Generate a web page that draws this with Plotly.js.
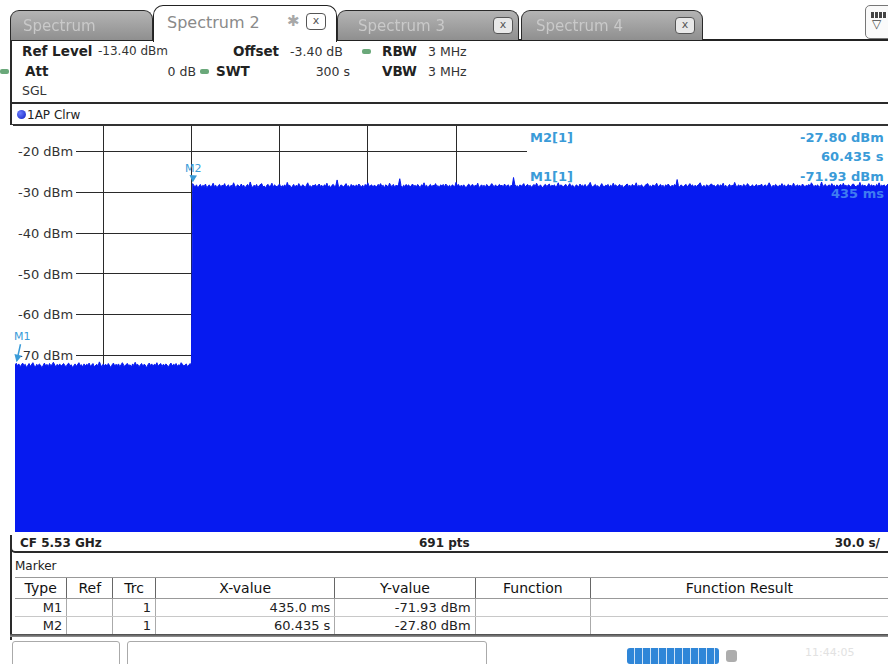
<!DOCTYPE html>
<html>
<head>
<meta charset="utf-8">
<script src="https://cdn.plot.ly/plotly-3.0.1.min.js"></script>
<style>
html,body{margin:0;padding:0;width:888px;height:664px;overflow:hidden;background:#fff;font-family:"DejaVu Sans",sans-serif;color:#222;}
#chart{position:absolute;left:0;top:0;width:900px;height:664px;z-index:1;}
.abs{position:absolute;white-space:nowrap;z-index:3;}
.vc{transform:translateY(-50%);}
.b{font-weight:bold;font-size:13px;color:#222;}
.n{font-size:12.5px;color:#333;}
.dash{position:absolute;width:9px;height:5px;border-radius:2px;background:#6aa87a;z-index:3;}
.tab{position:absolute;top:10px;height:30px;border:1.5px solid #2a2a2a;border-bottom:none;border-radius:9px 9px 0 0;background:linear-gradient(#b4b4b4,#8f8f8f);z-index:3;box-sizing:border-box;}
.tabtxt{position:absolute;top:6px;font-size:15px;color:#c9c9c9;filter:blur(0.5px);}
.xbox{position:absolute;top:6px;width:18px;height:15px;border:1px solid #555;border-radius:4px;background:#e8e8e8;font-size:11px;line-height:14px;text-align:center;color:#555;}
table.mk{position:absolute;left:15px;top:577px;border-collapse:collapse;table-layout:fixed;z-index:3;font-family:"DejaVu Sans",sans-serif;font-size:13px;color:#222;}
table.mk td{padding:0 4px;overflow:hidden;white-space:nowrap;border-left:1px solid #888;border-bottom:1px solid #c8c8c8;}
table.mk tr.hd td{height:20px;text-align:center;font-size:14px;color:#111;border-left:1px solid #666;border-top:1px solid #999;border-bottom:1px solid #999;}
table.mk tr.rw td{height:17px;text-align:right;border-left:1px solid #aaa;}
</style>
</head>
<body>
<div id="chart"></div>

<!-- tab strip -->
<div class="abs" style="left:10px;top:39px;width:880px;height:2px;background:#222;"></div>
<div class="tab" style="left:10px;width:143px;"><span class="tabtxt" style="left:12px;">Spectrum</span></div>
<div class="tab" style="left:337px;width:182px;"><span class="tabtxt" style="left:20px;">Spectrum 3</span><div class="xbox" style="left:155px;">x</div></div>
<div class="tab" style="left:521px;width:182px;"><span class="tabtxt" style="left:14px;">Spectrum 4</span><div class="xbox" style="left:153px;">x</div></div>
<div class="abs" style="left:153px;top:5px;width:184px;height:37px;border:1.5px solid #222;border-bottom:none;border-radius:10px 10px 0 0;background:#fff;box-sizing:border-box;z-index:4;">
  <span style="position:absolute;left:13px;top:7px;font-size:16px;color:#8a8a8a;">Spectrum 2</span>
  <span style="position:absolute;left:133px;top:6px;font-size:15px;color:#a8a8a8;">✱</span>
  <div class="xbox" style="left:152px;top:7px;background:#fff;">x</div>
</div>
<div class="abs" style="left:865px;top:5px;width:26px;height:32px;border:1px solid #777;border-radius:5px;background:#fafafa;">
  <div style="position:absolute;left:5px;top:6px;width:16px;height:6px;background:repeating-linear-gradient(90deg,#444 0 3px,#fff 3px 4px);"></div>
  <span style="position:absolute;left:6px;top:11px;font-size:12px;color:#444;">▽</span>
</div>

<!-- left border of window -->
<div class="abs" style="left:10px;top:40px;width:2px;height:600px;background:#2a2a2a;"></div>

<!-- header info -->
<span class="abs vc b" style="left:22px;top:51px;font-size:13.5px;">Ref Level</span>
<span class="abs vc n" style="left:98px;top:51px;font-size:12px;">-13.40 dBm</span>
<span class="abs vc b" style="left:233px;top:51px;font-size:13.5px;">Offset</span>
<span class="abs vc n" style="left:290px;top:51px;">-3.40 dB</span>
<div class="dash" style="left:362px;top:49px;"></div>
<span class="abs vc b" style="left:382px;top:51px;font-size:13.5px;">RBW</span>
<span class="abs vc n" style="left:428px;top:51px;">3 MHz</span>

<div class="dash" style="left:0px;top:69px;"></div>
<span class="abs vc b" style="left:25px;top:71px;font-size:13.5px;">Att</span>
<span class="abs vc n" style="right:692px;top:71px;">0 dB</span>
<div class="dash" style="left:200px;top:69px;"></div>
<span class="abs vc b" style="left:216px;top:71px;font-size:13.5px;">SWT</span>
<span class="abs vc n" style="right:538px;top:71px;">300 s</span>
<span class="abs vc b" style="left:382px;top:71px;font-size:13.5px;">VBW</span>
<span class="abs vc n" style="left:428px;top:71px;">3 MHz</span>

<span class="abs vc n" style="left:22px;top:90px;">SGL</span>

<!-- trace window frame -->
<div class="abs" style="left:11px;top:102px;width:890px;height:2px;background:#2a2a2a;"></div>
<div class="abs" style="left:17px;top:110px;width:9px;height:9px;border-radius:50%;background:radial-gradient(circle at 35% 35%,#6a7cff,#1020c0);"></div>
<span class="abs vc n" style="left:27px;top:115px;font-size:12px;color:#222;">1AP Clrw</span>
<div class="abs" style="left:11px;top:124px;width:890px;height:1.5px;background:#333;"></div>
<div class="abs" style="left:0px;top:125px;width:13px;height:410px;background:#fff;"></div>
<div class="abs" style="left:10px;top:104px;width:890px;height:449px;border-left:2.5px solid #2a2a2a;border-bottom:2px solid #2a2a2a;border-bottom-left-radius:5px;box-sizing:border-box;z-index:2;"></div>

<span class="abs vc" style="left:20px;top:543px;font-size:12px;font-weight:bold;">CF 5.53 GHz</span>
<span class="abs vc" style="left:419px;top:543px;font-size:12px;font-weight:bold;">691 pts</span>
<span class="abs vc" style="right:8px;top:543px;font-size:12px;font-weight:bold;">30.0 s/</span>

<!-- marker table -->
<span class="abs vc" style="left:15px;top:566px;font-size:12px;">Marker</span>
<table class="mk">
<colgroup><col style="width:52px"><col style="width:46px"><col style="width:43px"><col style="width:181px"><col style="width:141px"><col style="width:116px"><col style="width:300px"></colgroup>
<tr class="hd"><td style="border-left:none">Type</td><td>Ref</td><td>Trc</td><td>X-value</td><td>Y-value</td><td>Function</td><td>Function Result</td></tr>
<tr class="rw"><td style="border-left:none">M1</td><td></td><td>1</td><td>435.0 ms</td><td>-71.93 dBm</td><td></td><td></td></tr>
<tr class="rw"><td style="border-left:none">M2</td><td></td><td>1</td><td>60.435 s</td><td>-27.80 dBm</td><td></td><td></td></tr>
</table>
<div class="abs" style="left:10px;top:634px;width:890px;height:3px;background:linear-gradient(#444,#999);"></div>

<!-- status bar -->
<div class="abs" style="left:12px;top:641px;width:106px;height:26px;border:1px solid #aaa;border-radius:3px;background:#fff;"></div>
<div class="abs" style="left:127px;top:641px;width:358px;height:26px;border:1px solid #aaa;border-radius:3px;background:#fff;"></div>
<div class="abs" style="left:627px;top:648px;width:92px;height:16px;border-radius:3px;background:repeating-linear-gradient(90deg,#2f86d8 0 7px,#cfe3f7 7px 8px);"></div>
<div class="abs" style="left:726px;top:650px;width:11px;height:12px;background:#8a8a8a;border-radius:3px;opacity:0.7;"></div>
<span class="abs" style="left:805px;top:646px;font-size:11px;color:#e2e2e2;">11:44:05</span>

<script>
// ---- data ----
const sweepTimeS = 300;        // SWT 300 s, x axis 0..300 s (30 s/div)
const numPoints = 691;         // 691 pts
const refLevelDbm = -13.40;    // top of screen
const rangeDb = 100;           // 10 dB/div, 10 divisions

// trace levels (dBm), points 0..138 (0 .. 60 s)
const lowLevelDbm = [
-72.4,-71.93,-72.6,-72.1,-72.8,-72.3,-71.9,-72.5,-72.2,-73.0,-72.4,-72.0,-72.7,-72.3,-71.8,-72.5,-72.9,-72.2,-72.6,-72.1,
-72.4,-73.1,-72.3,-71.9,-72.6,-72.2,-72.8,-72.0,-72.5,-72.3,-71.7,-72.4,-72.9,-72.2,-72.6,-72.1,-72.7,-72.3,-72.0,-72.5,
-72.8,-72.2,-71.9,-72.6,-72.3,-73.0,-72.4,-72.1,-72.7,-72.2,-71.8,-72.5,-72.3,-72.9,-72.1,-72.6,-72.2,-72.4,-71.9,-72.7,
-72.3,-72.0,-72.8,-72.4,-72.2,-72.6,-71.6,-72.3,-72.9,-72.1,-72.5,-72.2,-72.7,-72.0,-72.4,-73.0,-72.3,-71.9,-72.6,-72.2,
-72.5,-72.1,-72.8,-72.3,-71.8,-72.4,-72.7,-72.2,-72.0,-72.6,-72.3,-72.9,-72.1,-72.5,-71.7,-72.4,-72.2,-72.8,-72.3,-72.0,
-72.6,-72.2,-72.4,-73.1,-72.3,-71.9,-72.5,-72.1,-72.7,-72.2,-72.4,-71.8,-72.6,-72.3,-72.0,-72.8,-72.2,-72.5,-72.1,-72.4,
-72.9,-72.3,-71.9,-72.6,-72.2,-72.4,-72.0,-72.7,-72.3,-72.5,-71.8,-72.2,-72.6,-72.4,-72.1,-72.8,-72.3,-72.0,-72.5
];
// trace levels (dBm), points 139..690 (60.435 .. 300 s)
const highLevelDbm = [
-27.80,-28.3,-28.6,-28.1,-28.9,-28.4,-28.0,-28.7,-28.2,-28.5,-27.9,-28.8,-28.3,-28.1,-28.6,-28.4,-27.7,-28.5,-28.2,-28.9,-28.3,-28.0,-28.6,-28.2,
-28.4,-27.8,-28.7,-28.3,-28.1,-28.9,-28.2,-28.5,-27.6,-28.4,-28.8,-28.1,-28.3,-28.6,-27.9,-28.5,-28.2,-29.0,-28.3,-28.0,-28.6,-27.4,-28.4,-28.7,
-28.2,-28.5,-28.0,-28.8,-28.3,-28.1,-27.8,-28.6,-28.4,-28.9,-28.2,-28.0,-28.5,-28.3,-27.7,-28.7,-28.1,-28.4,-28.6,-28.2,-27.9,-28.8,-28.3,-28.5,
-28.1,-28.6,-27.5,-28.4,-28.2,-28.9,-28.3,-28.0,-28.7,-28.2,-28.5,-27.8,-28.4,-28.6,-28.1,-28.3,-28.8,-28.0,-27.6,-28.5,-28.3,-28.7,-28.2,-28.4,
-28.0,-28.6,-28.3,-27.9,-28.5,-28.2,-28.8,-28.1,-28.4,-27.7,-28.6,-28.3,-28.9,-28.2,-28.0,-28.5,-28.3,-26.9,-28.4,-28.7,-28.1,-28.3,-28.6,-28.2,
-27.8,-28.5,-28.3,-28.9,-28.0,-28.4,-28.2,-28.7,-28.1,-28.5,-27.9,-28.3,-28.6,-28.2,-28.8,-28.0,-28.4,-27.6,-28.5,-28.3,-28.1,-28.7,-28.2,-28.4,
-28.6,-28.0,-28.3,-27.8,-28.5,-28.2,-28.9,-28.1,-28.4,-28.6,-27.7,-28.3,-28.5,-28.0,-28.7,-28.2,-28.4,-28.1,-26.6,-28.3,-28.8,-28.2,-28.5,-28.0,
-28.4,-28.1,-28.7,-28.3,-27.9,-28.5,-28.2,-28.6,-28.0,-28.4,-28.8,-28.1,-28.3,-27.6,-28.5,-28.2,-28.9,-28.3,-28.0,-28.6,-28.2,-28.4,-27.8,-28.5,
-28.3,-28.7,-28.1,-28.4,-28.0,-28.6,-27.9,-28.3,-28.5,-28.2,-28.8,-28.1,-28.4,-28.6,-27.5,-28.3,-28.0,-28.7,-28.2,-28.5,-28.1,-28.4,-28.9,-28.2,
-27.9,-28.5,-28.3,-28.0,-28.6,-28.2,-28.4,-27.7,-28.8,-28.3,-28.1,-28.5,-28.2,-28.7,-28.0,-28.4,-28.6,-28.2,-27.8,-28.3,-28.5,-28.1,-28.7,-28.3,
-28.0,-28.4,-28.2,-28.6,-27.9,-28.5,-28.3,-28.1,-28.8,-28.2,-28.4,-26.3,-28.0,-28.5,-28.3,-28.7,-28.1,-28.4,-28.2,-27.8,-28.6,-28.3,-28.0,-28.5,
-28.2,-28.7,-28.4,-28.0,-28.5,-27.7,-28.3,-28.6,-28.1,-28.4,-28.9,-28.2,-28.0,-28.5,-28.3,-27.9,-28.6,-28.2,-28.4,-28.1,-28.7,-28.3,-27.6,-28.5,
-28.1,-28.4,-28.6,-28.2,-28.0,-28.7,-28.3,-27.8,-28.5,-28.2,-28.4,-28.8,-28.1,-28.3,-28.6,-27.9,-28.4,-28.2,-28.5,-28.0,-28.7,-28.3,-28.1,-27.5,
-28.4,-28.6,-28.2,-28.0,-28.5,-28.3,-28.9,-28.1,-27.8,-28.4,-28.6,-28.2,-28.3,-28.0,-28.7,-28.2,-28.5,-27.7,-28.4,-28.1,-28.6,-28.3,-28.0,-28.5,
-28.2,-28.8,-28.3,-28.1,-27.9,-28.5,-28.2,-28.6,-28.0,-28.4,-28.3,-27.6,-28.7,-28.2,-28.5,-28.1,-28.4,-28.9,-28.2,-28.0,-27.8,-28.5,-28.3,-28.6,
-28.1,-28.4,-28.2,-27.7,-28.6,-28.3,-28.0,-28.5,-28.2,-28.8,-28.1,-28.4,-27.9,-28.3,-28.6,-28.2,-28.5,-28.0,-28.4,-26.8,-28.3,-28.7,-28.1,-28.4,
-28.5,-28.2,-28.0,-28.6,-28.3,-27.8,-28.4,-28.1,-28.7,-28.2,-28.5,-28.3,-28.0,-27.6,-28.4,-28.6,-28.2,-28.9,-28.1,-28.3,-28.5,-28.0,-27.9,-28.4,
-28.2,-28.6,-28.3,-28.0,-28.5,-28.1,-28.4,-27.7,-28.6,-28.2,-28.8,-28.3,-28.0,-28.5,-28.2,-28.4,-27.5,-28.3,-28.6,-28.1,-28.4,-28.2,-28.7,-28.0,
-28.3,-28.5,-27.8,-28.2,-28.6,-28.4,-28.1,-28.7,-28.3,-28.0,-28.5,-28.2,-28.4,-27.9,-28.6,-28.3,-28.1,-28.5,-28.2,-27.6,-28.4,-28.8,-28.2,-28.5,
-28.0,-28.3,-28.6,-28.2,-28.4,-27.8,-28.5,-28.1,-28.7,-28.3,-28.0,-28.4,-28.2,-28.6,-27.7,-28.3,-28.5,-28.1,-28.4,-28.2,-28.7,-27.9,-28.3,-28.6,
-28.2,-28.4,-28.0,-28.5,-27.6,-28.3,-28.6,-28.2,-28.4,-28.1,-28.8,-28.3,-27.4,-28.5,-28.2,-28.0,-28.6,-28.3,-28.1,-28.5,-27.8,-28.4,-28.2,-28.7,
-28.1,-28.5,-28.3,-28.0,-28.6,-27.7,-28.4,-28.2,-28.5,-28.1,-28.3,-28.7,-28.0,-27.9,-28.4,-28.6,-28.2,-28.3,-27.5,-28.5,-28.1,-28.4,-28.2,-28.6,
-28.3,-27.8,-28.5,-28.1,-28.4,-28.2,-28.7,-28.0,-28.3,-27.6,-28.5,-28.2,-28.4,-28.1,-28.6,-28.3,-27.9,-28.5,-28.2,-28.4,-28.0,-28.6,-28.3,-28.1
];

const yTickVals = [-20,-30,-40,-50,-60,-70,-80,-90,-100,-110];
const yTickText = ['-20 dBm','-30 dBm','-40 dBm','-50 dBm','-60 dBm','-70 dBm','','','',''];

const markerNames = ['M1','M2'];
const markerXs = [0.435, 60.435];
const markerYDbm = [-71.93, -27.80];
const markerXText = ['435 ms','60.435 s'];
const markerYText = ['-71.93 dBm','-27.80 dBm'];

// ---- build ----
const levels = lowLevelDbm.concat(highLevelDbm);
const times = levels.map((_, i) => i * sweepTimeS / (numPoints - 1));
const bottomDbm = refLevelDbm - rangeDb;

const traceBlue = 'rgb(6,26,240)';
const mkBlue = '#3a9bd8';

// plot area in page pixels: x 15..897, y 125..532
const PX0 = 15, PX1 = 897, PY0 = 125, PY1 = 532;
const px2s = p => (p - PX0) / (PX1 - PX0) * sweepTimeS;
const py2db = p => refLevelDbm - (p - PY0) / (PY1 - PY0) * rangeDb;

const traces = [
  {x:[0, sweepTimeS], y:[bottomDbm, bottomDbm], mode:'lines', line:{width:0, color:traceBlue}, hoverinfo:'skip'},
  {x:times, y:levels, mode:'lines', line:{color:traceBlue, width:1}, fill:'tonexty', fillcolor:traceBlue, hoverinfo:'skip'}
];

const annFont = {family:'DejaVu Sans', size:13, color:mkBlue};
const mkLabelFont = {family:'DejaVu Sans', size:11, color:mkBlue};
const annotations = [
  // marker labels with pointer on the trace
  {x:markerXs[1], y:markerYDbm[1], text:markerNames[1], showarrow:true, arrowhead:2, arrowsize:1, arrowwidth:1.5,
   arrowcolor:mkBlue, ax:1, ay:-15, standoff:1, font:mkLabelFont},
  {x:markerXs[0], y:markerYDbm[0], text:markerNames[0], showarrow:true, arrowhead:2, arrowsize:1, arrowwidth:1.5,
   arrowcolor:mkBlue, ax:6, ay:-27, standoff:1, font:mkLabelFont},
  // marker readout (top right)
  {x:px2s(528), y:py2db(137), text:'<b>' + markerNames[1] + '[1]</b>', showarrow:false, xanchor:'left', yanchor:'middle', font:annFont},
  {x:px2s(886), y:py2db(137), text:'<b>' + markerYText[1] + '</b>', showarrow:false, xanchor:'right', yanchor:'middle', font:annFont},
  {x:px2s(886), y:py2db(156), text:'<b>' + markerXText[1] + '</b>', showarrow:false, xanchor:'right', yanchor:'middle', font:annFont},
  {x:px2s(528), y:py2db(176), text:'<b>' + markerNames[0] + '[1]</b>', showarrow:false, xanchor:'left', yanchor:'middle', font:annFont},
  {x:px2s(886), y:py2db(176), text:'<b>' + markerYText[0] + '</b>', showarrow:false, xanchor:'right', yanchor:'middle', font:annFont},
  {x:px2s(886), y:py2db(193), text:'<b>' + markerXText[0] + '</b>', showarrow:false, xanchor:'right', yanchor:'middle', font:{family:'DejaVu Sans', size:13, color:'#3f7cf0'}}
];

const shapes = [
  // white area behind y labels (grid starts after label)
  {type:'rect', xref:'x', yref:'y', x0:0, x1:px2s(76), y0:py2db(362), y1:refLevelDbm, fillcolor:'#fff', line:{width:0}, layer:'between'},
  // white area of the marker readout box
  {type:'rect', xref:'x', yref:'y', x0:px2s(527), x1:sweepTimeS, y0:-31, y1:refLevelDbm, fillcolor:'#fff', line:{width:0}, layer:'between'}
];

const layout = {
  width:900, height:664,
  margin:{l:PX0, r:900-PX1, t:PY0, b:664-PY1, pad:0},
  paper_bgcolor:'rgba(0,0,0,0)',
  plot_bgcolor:'#fff',
  showlegend:false,
  xaxis:{range:[0, sweepTimeS], tickmode:'linear', tick0:0, dtick:sweepTimeS/10, showticklabels:false, ticks:'',
         showgrid:true, gridcolor:'#2a2a2a', gridwidth:1, zeroline:false, showline:false, fixedrange:true},
  yaxis:{range:[bottomDbm, refLevelDbm], tickmode:'array', tickvals:yTickVals, ticktext:yTickText,
         ticklabelposition:'inside', ticks:'', showgrid:true, gridcolor:'#2a2a2a', gridwidth:1,
         zeroline:false, showline:false, fixedrange:true,
         tickfont:{family:'DejaVu Sans', size:13, color:'#333'}},
  shapes:shapes,
  annotations:annotations
};

Plotly.newPlot('chart', traces, layout, {staticPlot:true, displayModeBar:false});
</script>
</body>
</html>
